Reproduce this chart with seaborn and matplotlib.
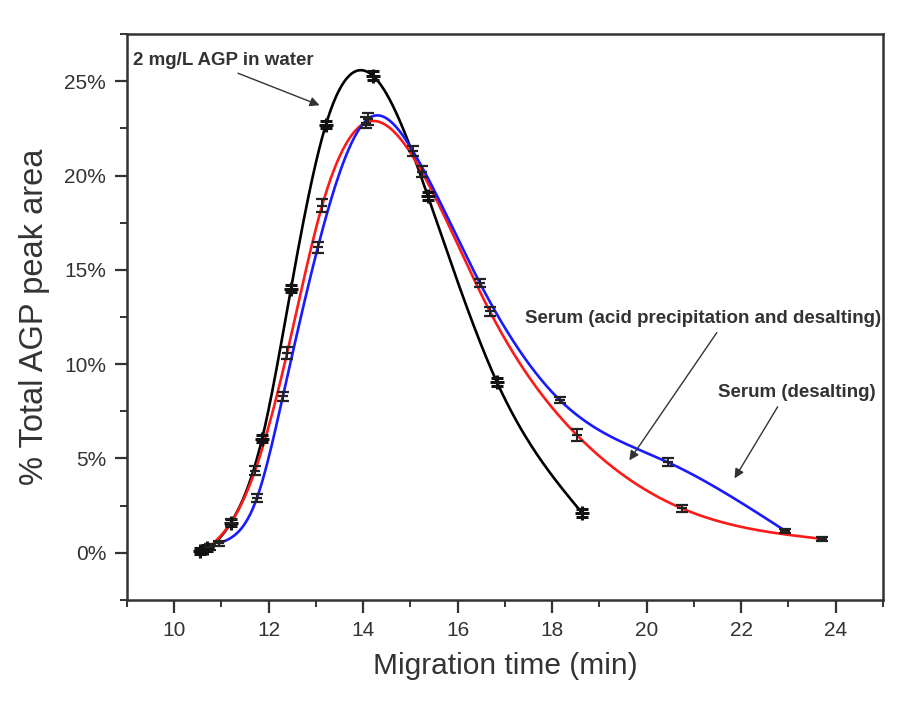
import numpy as np
import pandas as pd
import matplotlib
matplotlib.use("Agg")
import matplotlib.pyplot as plt
from matplotlib.ticker import MultipleLocator, FuncFormatter
import seaborn as sns

# ---- data ----
water_x = [10.55, 10.70, 11.20, 11.86, 12.47, 13.21, 14.20, 15.37, 16.83, 18.63]
water_y = [0.10, 0.25, 1.60, 6.05, 14.00, 22.70, 25.30, 18.90, 9.05, 2.12]
water_err = [0.15, 0.15, 0.2, 0.2, 0.2, 0.2, 0.25, 0.2, 0.2, 0.2]

acid_x = [10.75, 11.20, 11.71, 12.39, 13.13, 14.05, 15.24, 16.68, 18.52, 20.75, 23.71]
acid_y = [0.30, 1.60, 4.35, 10.60, 18.40, 22.80, 20.20, 12.80, 6.25, 2.35, 0.74]
acid_err = [0.15, 0.2, 0.25, 0.3, 0.35, 0.3, 0.3, 0.25, 0.3, 0.2, 0.1]

desalt_x = [10.95, 11.75, 12.30, 13.04, 14.10, 15.05, 16.47, 18.16, 20.45, 22.93]
desalt_y = [0.50, 2.90, 8.30, 16.20, 23.00, 21.30, 14.30, 8.10, 4.80, 1.17]
desalt_err = [0.15, 0.2, 0.25, 0.3, 0.3, 0.25, 0.2, 0.15, 0.2, 0.1]

labels = ["2 mg/L AGP in water",
          "Serum (acid precipitation and desalting)",
          "Serum (desalting)"]
xticks = [10, 12, 14, 16, 18, 20, 22, 24]
yticks = [0, 5, 10, 15, 20, 25]


def natural_spline(x, y, n=400):
    x = np.asarray(x, float)
    y = np.asarray(y, float)
    m = len(x)
    h = np.diff(x)
    A = np.zeros((m, m))
    r = np.zeros(m)
    A[0, 0] = 1
    A[-1, -1] = 1
    for i in range(1, m - 1):
        A[i, i - 1] = h[i - 1]
        A[i, i] = 2 * (h[i - 1] + h[i])
        A[i, i + 1] = h[i]
        r[i] = 3 * ((y[i + 1] - y[i]) / h[i] - (y[i] - y[i - 1]) / h[i - 1])
    c = np.linalg.solve(A, r)
    b = (y[1:] - y[:-1]) / h - h * (2 * c[:-1] + c[1:]) / 3
    d = (c[1:] - c[:-1]) / (3 * h)
    xs = np.linspace(x[0], x[-1], n)
    idx = np.clip(np.searchsorted(x, xs) - 1, 0, m - 2)
    dx = xs - x[idx]
    ys = y[idx] + b[idx] * dx + c[idx] * dx ** 2 + d[idx] * dx ** 3
    return xs, ys


sns.set_theme(style="white")
plt.rcParams['font.family'] = ['Liberation Sans', 'DejaVu Sans']

fig = plt.figure(figsize=(9.02, 7.24), dpi=100)
ax = fig.add_axes([0.1408, 0.1713, 0.838, 0.7817])

series = [(water_x, water_y, water_err, "black"),
          (acid_x, acid_y, acid_err, "#ff1a1a"),
          (desalt_x, desalt_y, desalt_err, "#1a1aff")]

frames = []
for (sx, sy, se, col), lab in zip(series, labels):
    xs, ys = natural_spline(sx, sy)
    frames.append(pd.DataFrame({"t": xs, "v": ys, "s": lab}))
curves = pd.concat(frames, ignore_index=True)
palette = {labels[0]: "black", labels[1]: "#ff1a1a", labels[2]: "#1a1aff"}
sns.lineplot(data=curves, x="t", y="v", hue="s", palette=palette,
             linewidth=1.9, legend=False, ax=ax, sort=False, estimator=None)

# markers with error bars
ax.errorbar(water_x, water_y, yerr=water_err, fmt='+', color='#111111',
            ms=10, mew=2.2, elinewidth=1.4, capsize=4, capthick=1.4, zorder=5)
ax.errorbar(acid_x, acid_y, yerr=acid_err, fmt='_', color='#222222',
            ms=7, mew=1.6, elinewidth=1.4, capsize=4, capthick=1.4, zorder=5)
ax.errorbar(desalt_x, desalt_y, yerr=desalt_err, fmt='_', color='#222222',
            ms=7, mew=1.6, elinewidth=1.4, capsize=4, capthick=1.4, zorder=5)

ax.set_xlim(9, 25)
ax.set_ylim(-2.5, 27.5)
ax.xaxis.set_major_locator(MultipleLocator(2))
ax.xaxis.set_minor_locator(MultipleLocator(1))
ax.set_xticks(xticks)
ax.yaxis.set_minor_locator(MultipleLocator(2.5))
ax.set_yticks(yticks)
ax.yaxis.set_major_formatter(FuncFormatter(lambda v, p: f"{v:.0f}%"))

ax.tick_params(axis='both', which='major', direction='out', length=9, width=1.6,
               color='#333333', labelsize=15, labelcolor='#333333', pad=6,
               bottom=True, left=True, top=False, right=False)
ax.tick_params(axis='both', which='minor', direction='out', length=5, width=1.4,
               color='#333333', bottom=True, left=True, top=False, right=False)
for sp in ax.spines.values():
    sp.set_color('#333333')
    sp.set_linewidth(1.8)
    sp.set_visible(True)

ax.set_xlabel("Migration time (min)", fontsize=21.5, color='#333333', labelpad=9)
ax.set_ylabel("% Total AGP peak area", fontsize=23.5, color='#333333', labelpad=10)

ann_kw = dict(fontsize=13.5, fontweight='bold', color='#333333')
arrow = dict(arrowstyle='-|>', color='#333333', lw=1.0, mutation_scale=14)
ax.annotate(labels[0], xy=(13.13, 23.67), xytext=(9.13, 26.1),
            ha='left', va='center', arrowprops=dict(arrow, relpos=(0.52, 0.0)), **ann_kw)
ax.annotate(labels[1], xy=(19.6, 4.78), xytext=(17.42, 12.42),
            ha='left', va='center', arrowprops=dict(arrow, relpos=(0.55, 0.0)), **ann_kw)
ax.annotate(labels[2], xy=(21.83, 3.82), xytext=(21.51, 8.49),
            ha='left', va='center', arrowprops=dict(arrow, relpos=(0.4, 0.0)), **ann_kw)

fig.savefig("out.png", dpi=100)
